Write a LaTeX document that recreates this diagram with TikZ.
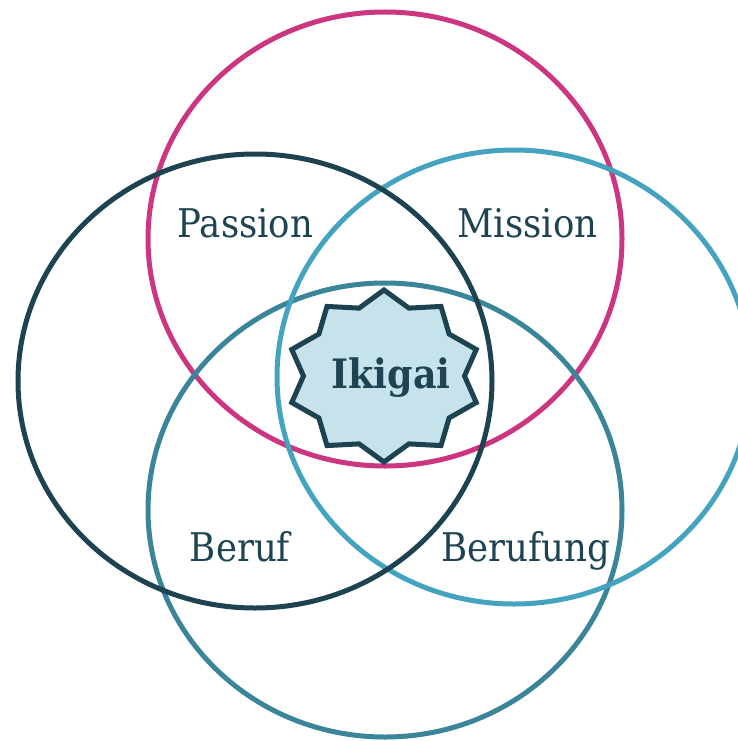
\documentclass[tikz,border=0pt]{standalone}
\usepackage{fontspec}
\newfontfamily\labfont{DejaVu Serif Condensed}
\definecolor{cmag}{HTML}{CC3680}
\definecolor{cnavy}{HTML}{1D4250}
\definecolor{clight}{HTML}{44A3BF}
\definecolor{cteal}{HTML}{3A8599}
\definecolor{cstar}{HTML}{C6E3EC}
\definecolor{ctext}{HTML}{1E4452}
\tikzset{
  ring/.style={line width=5pt},
  lab/.style={font=\labfont\fontsize{39.5}{44}\selectfont, text=ctext, anchor=base, inner sep=0pt},
  centrelab/.style={font=\labfont\bfseries\fontsize{40.5}{44}\selectfont, text=ctext, anchor=base, inner sep=0pt},
}
\begin{document}
\begin{tikzpicture}[x=1pt,y=-1pt]
\useasboundingbox (0,0) rectangle (738,741);
\begin{scope}
\clip (0,0) rectangle (738,741);
\draw[ring, cmag] (385,239) ellipse [x radius=237, y radius=227];
\draw[ring, cteal] (385,510) ellipse [x radius=237, y radius=227];
\draw[ring, clight] (514,377) ellipse [x radius=237, y radius=227];
\draw[ring, cnavy] (255,381) ellipse [x radius=237, y radius=227];
\end{scope}
\draw[line width=5pt, cnavy, fill=cstar, line join=miter]
  plot[samples at={0,...,19}, variable=\k]
  ({384+97*(1-0.17*mod(\k,2))*cos(90-18*\k)},{376-86*(1-0.17*mod(\k,2))*sin(90-18*\k)}) -- cycle;
\node[centrelab] (ikigai) at (391,388) {Ikigai};
\node[lab] (passion) at (245.5,237) {Passion};
\node[lab] (mission) at (527.5,237) {Mission};
\node[lab] (beruf) at (240,561) {Beruf};
\node[lab] (berufung) at (526,561) {Berufung};
\end{tikzpicture}
\end{document}
